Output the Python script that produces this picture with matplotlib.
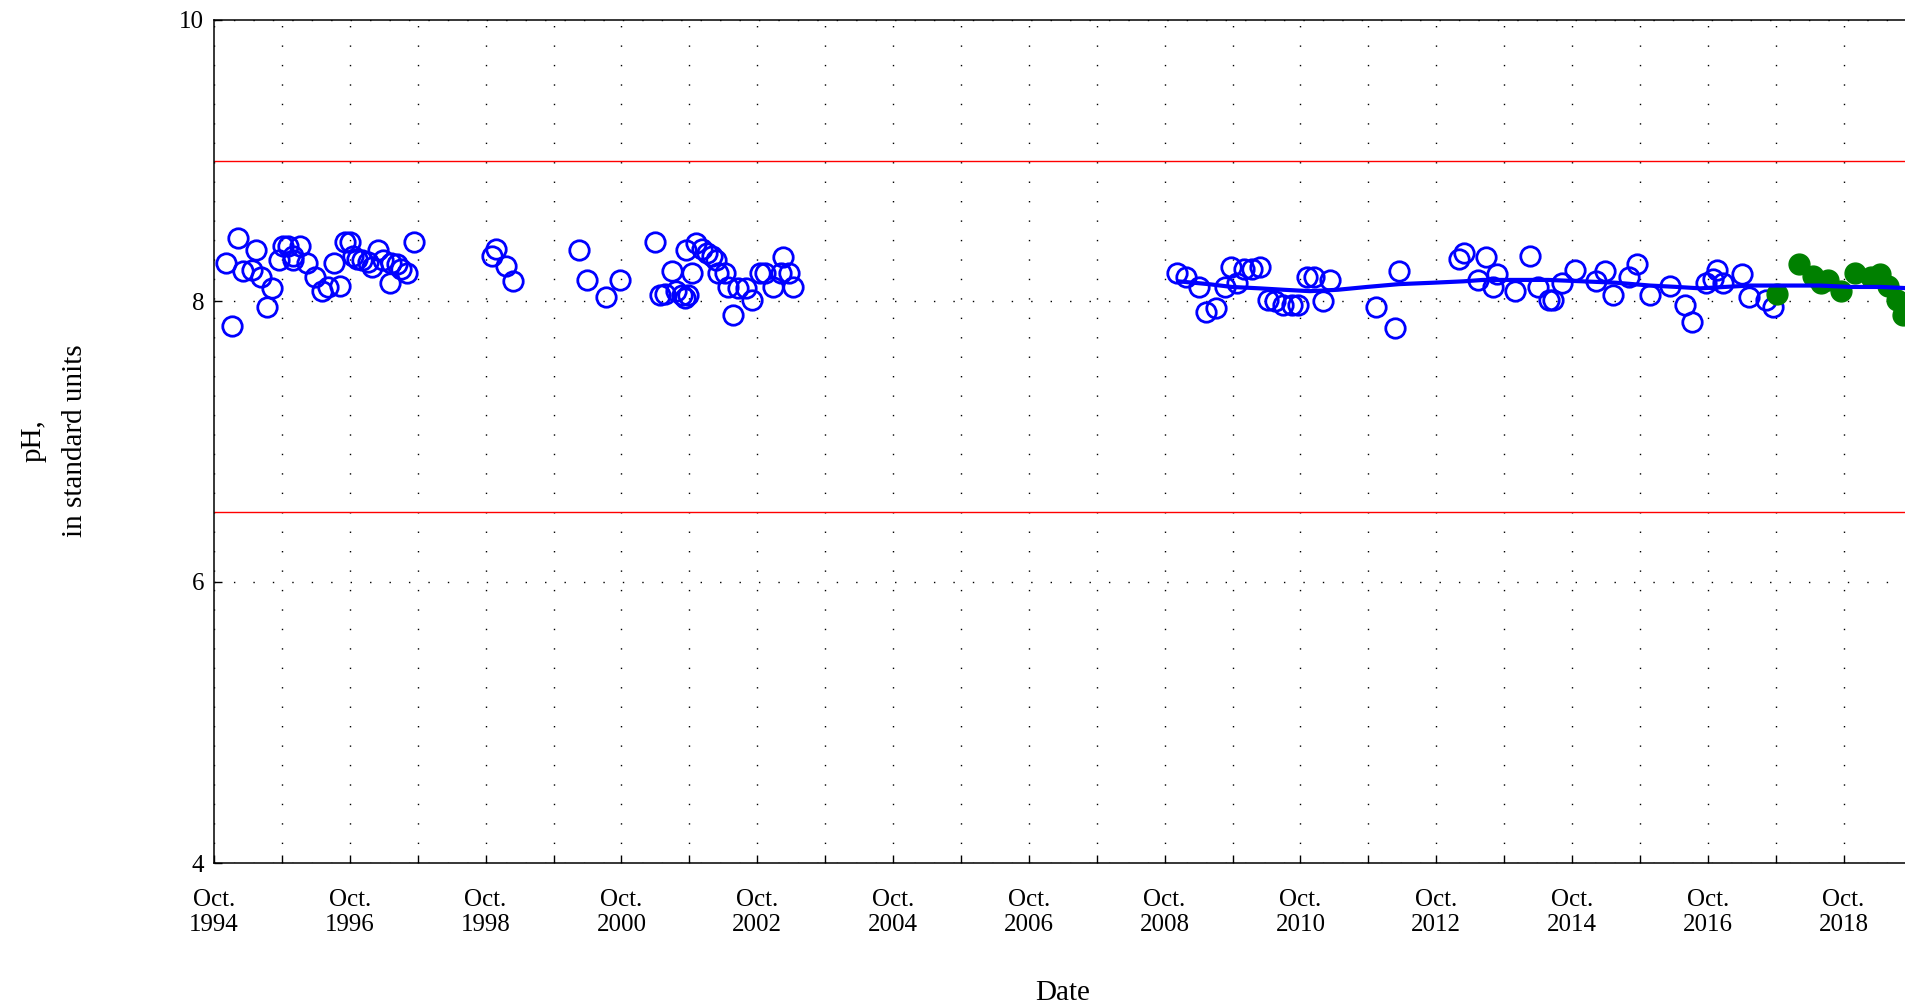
import matplotlib
matplotlib.use('Agg')
import matplotlib.pyplot as plt
import numpy as np

plt.rcParams['font.family'] = ['Liberation Serif', 'DejaVu Serif']

# sample dates as decimal years, pH values
blue_t = [1994.92, 1995.10, 1995.01, 1995.18, 1995.31, 1995.37, 1995.44, 1995.61, 1995.53, 1995.70,
          1995.77, 1995.84, 1995.91, 1996.02, 1995.92, 1996.12, 1996.24, 1996.34, 1996.43, 1996.51,
          1996.61, 1996.68, 1996.75, 1996.80, 1996.85, 1996.93, 1997.02, 1997.07, 1997.16, 1997.24,
          1997.34, 1997.36, 1997.44, 1997.51, 1997.59, 1997.70,
          1998.84, 1998.91, 1999.05, 1999.16,
          2000.13, 2000.24, 2000.52, 2000.73,
          2001.25, 2001.32, 2001.39, 2001.49, 2001.56, 2001.64, 2001.68, 2001.70, 2001.73, 2001.79,
          2001.85, 2001.93, 2002.01, 2002.08, 2002.15, 2002.17, 2002.28, 2002.32, 2002.40, 2002.47,
          2002.59, 2002.68, 2002.79, 2002.86, 2002.99, 2003.13, 2003.10, 2003.22, 2003.27,
          2008.93, 2009.07, 2009.25, 2009.36, 2009.51, 2009.64, 2009.73, 2009.82, 2009.92, 2010.03,
          2010.16, 2010.28, 2010.38, 2010.50, 2010.62, 2010.72, 2010.84, 2010.95, 2011.09, 2011.19,
          2011.87, 2012.14, 2012.20,
          2013.08, 2013.16, 2013.37, 2013.49, 2013.59, 2013.64, 2013.91, 2014.13, 2014.25, 2014.41,
          2014.47, 2014.60, 2014.79, 2015.10, 2015.24, 2015.35, 2015.59, 2015.70, 2015.90, 2016.19,
          2016.41, 2016.51, 2016.73, 2016.83, 2016.88, 2016.98, 2017.25, 2017.35, 2017.60, 2017.71]
blue_ph = [8.27, 8.45, 7.82, 8.21, 8.22, 8.36, 8.17, 8.09, 7.96, 8.29,
           8.39, 8.39, 8.32, 8.39, 8.29, 8.27, 8.17, 8.07, 8.10, 8.27,
           8.11, 8.42, 8.42, 8.32, 8.30, 8.29, 8.28, 8.24, 8.36, 8.29,
           8.13, 8.27, 8.26, 8.23, 8.20, 8.42,
           8.32, 8.37, 8.25, 8.14,
           8.36, 8.15, 8.03, 8.15,
           8.42, 8.04, 8.05, 8.21, 8.07, 8.04, 8.02, 8.36, 8.04, 8.20,
           8.41, 8.37, 8.34, 8.32, 8.29, 8.20, 8.20, 8.10, 7.90, 8.09,
           8.09, 8.01, 8.20, 8.20, 8.10, 8.31, 8.20, 8.20, 8.10,
           8.20, 8.17, 8.10, 7.92, 7.95, 8.10, 8.24, 8.13, 8.23, 8.23,
           8.24, 8.01, 8.00, 7.97, 7.97, 7.97, 8.17, 8.17, 8.00, 8.15,
           7.96, 7.81, 8.21,
           8.30, 8.34, 8.15, 8.31, 8.10, 8.19, 8.07, 8.32, 8.10, 8.01,
           8.01, 8.13, 8.22, 8.14, 8.21, 8.04, 8.17, 8.26, 8.04, 8.11,
           7.97, 7.85, 8.13, 8.16, 8.22, 8.13, 8.19, 8.03, 8.01, 7.96]

green_t = [2017.77, 2018.09, 2018.30, 2018.42, 2018.52, 2018.71, 2018.92, 2019.16, 2019.29,
           2019.40, 2019.53, 2019.63]
green_ph = [8.05, 8.26, 8.18, 8.13, 8.15, 8.07, 8.20, 8.17, 8.19, 8.11, 8.01, 7.90]

trend_t = [2008.95, 2009.4, 2009.74, 2010.15, 2010.5, 2010.89, 2011.3, 2011.73, 2012.2, 2012.7,
           2013.15, 2013.44, 2013.94, 2014.4, 2014.91, 2015.4, 2015.90, 2016.3, 2016.64, 2017.0,
           2017.37, 2017.86, 2018.4, 2018.84, 2019.3, 2019.75]
trend_ph = [8.14, 8.12, 8.10, 8.09, 8.08, 8.07, 8.08, 8.10, 8.12, 8.13,
            8.14, 8.15, 8.15, 8.15, 8.14, 8.13, 8.11, 8.10, 8.09, 8.10,
            8.11, 8.11, 8.11, 8.10, 8.10, 8.09]

limits = [9.0, 6.5]
years = list(range(1994, 2020))

fig = plt.figure(figsize=(19.05, 10.06), dpi=100)
ax = fig.add_axes([214 / 1905, 143 / 1006, 1697.5 / 1905, 843 / 1006])

for lim in limits:
    ax.axhline(lim, color='red', linewidth=1.0, zorder=2)

ax.plot(blue_t, blue_ph, linestyle='none', marker='o', markersize=14, markerfacecolor='none',
        markeredgecolor='blue', markeredgewidth=2.0, zorder=3)
ax.plot(green_t, green_ph, linestyle='none', marker='o', markersize=15, color='green', zorder=4)
ax.plot(trend_t, trend_ph, color='blue', linewidth=3, zorder=5)

ax.set_xlim(1994.75, 2019.75)
ax.set_ylim(4, 10)
ax.set_xticks([y + 0.75 for y in years])
ax.set_xticklabels([f'Oct.\n{y}' if (y - 1994) % 2 == 0 else '' for y in years])
ax.set_yticks([4, 6, 8, 10])
ax.tick_params(axis='both', direction='in', length=6, width=1.0, labelsize=18)
ax.tick_params(axis='x', pad=19)
ax.tick_params(axis='y', pad=7)
for lbl in ax.get_xticklabels():
    lbl.set_linespacing(1.15)

ax.grid(True, color='black', linestyle=(0, (1, 13)), linewidth=1.0)
for s in ax.spines.values():
    s.set_linewidth(1.1)

fig.text(1063 / 1905, 1 - 993 / 1006, 'Date', fontsize=21, ha='center', va='center')
fig.text(54.5 / 1905, 1 - 441 / 1006, 'pH,\nin standard units', fontsize=21, rotation=90,
         ha='center', va='center', multialignment='center', linespacing=1.75)

fig.savefig('out.png', dpi=100)
